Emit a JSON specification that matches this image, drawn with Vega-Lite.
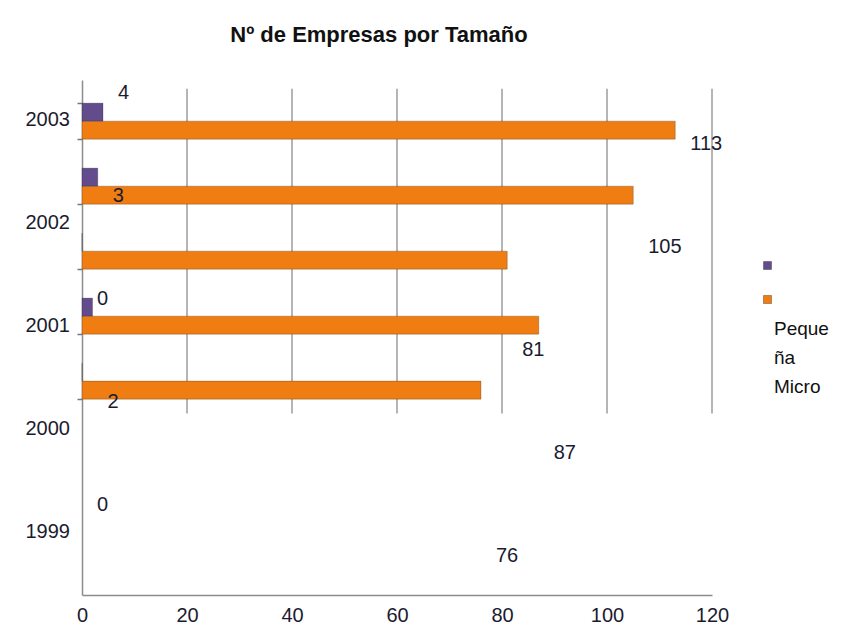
{
  "$schema": "https://vega.github.io/schema/vega-lite/v6.json",
  "width": 630,
  "height": 515,
  "padding": {"left": 25, "top": 24, "right": 5, "bottom": 0},
  "background": "white",
  "title": {"text": "Nº de Empresas por Tamaño", "font": "Liberation Sans", "fontSize": 22, "fontWeight": "bold", "color": "#111111", "offset": 33, "dx": -18, "anchor": "middle"},
  "config": {"view": {"stroke": null}, "font": "Liberation Sans"},
  "datasets": {
    "empresas": [
      {"year": "2003", "serie": "Micro", "value": 113},
      {"year": "2003", "serie": "Pequeña", "value": 4},
      {"year": "2002", "serie": "Micro", "value": 105},
      {"year": "2002", "serie": "Pequeña", "value": 3},
      {"year": "2001", "serie": "Micro", "value": 81},
      {"year": "2001", "serie": "Pequeña", "value": 0},
      {"year": "2000", "serie": "Micro", "value": 87},
      {"year": "2000", "serie": "Pequeña", "value": 2},
      {"year": "1999", "serie": "Micro", "value": 76},
      {"year": "1999", "serie": "Pequeña", "value": 0}
    ],
    "grid": [{"g": 20}, {"g": 40}, {"g": 60}, {"g": 80}, {"g": 100}, {"g": 120}]
  },
  "layer": [
    {
      "layer": [
        {
          "data": {"name": "grid"},
          "mark": {"type": "rule", "color": "#b5b5b5", "strokeWidth": 2},
          "encoding": {
            "x": {"field": "g", "type": "quantitative", "scale": {"domain": [0, 120], "nice": false}, "axis": {"title": null, "values": [0, 20, 40, 60, 80, 100, 120], "ticks": false, "grid": false, "domainColor": "#8c8c8c", "domainWidth": 1.5, "labelFontSize": 20, "labelPadding": 10, "labelColor": "#1b1b2f", "labelFont": "Liberation Sans", "labelFlush": false}},
            "y": {"datum": "2003", "type": "nominal", "bandPosition": -0.4, "scale": {"type": "band", "domain": ["2003", "2002", "2001", "2000", "1999", " ", "  "], "paddingInner": 0.446, "paddingOuter": 0.685, "align": 0.26}},
            "y2": {"datum": "1999", "bandPosition": 1.4}
          }
        },
        {
          "data": {"name": "empresas"},
          "mark": {"type": "bar", "stroke": "rgba(0,0,0,0.22)", "strokeWidth": 1},
          "encoding": {
            "x": {"field": "value", "type": "quantitative", "scale": {"domain": [0, 120], "nice": false}, "axis": {"title": null, "values": [0, 20, 40, 60, 80, 100, 120], "ticks": false, "grid": false, "domainColor": "#8c8c8c", "domainWidth": 1.5, "labelFontSize": 20, "labelPadding": 10, "labelColor": "#1b1b2f", "labelFont": "Liberation Sans", "labelFlush": false}},
            "y": {"field": "year", "type": "nominal", "scale": {"type": "band", "domain": ["2003", "2002", "2001", "2000", "1999", " ", "  "], "paddingInner": 0.446, "paddingOuter": 0.685, "align": 0.26},
              "axis": {"title": null, "values": ["2003", "2002", "2001", "2000", "1999"], "labels": false, "tickBand": "extent", "tickSize": 5, "tickWidth": 1.5, "tickColor": "#777777", "domainColor": "#8c8c8c", "domainWidth": 1.5}},
            "yOffset": {"field": "serie", "type": "nominal", "scale": {"type": "band", "domain": ["Pequeña", "Micro"], "paddingInner": 0, "paddingOuter": 0}},
            "color": {"field": "serie", "type": "nominal", "scale": {"domain": ["Pequeña", "Micro"], "range": ["#634c8c", "#f07d12"]},
              "legend": {"orient": "none", "legendX": 681, "legendY": 181, "title": ["Peque", "ña", "Micro"], "titleOrient": "bottom", "titleFontSize": 19, "titleFontWeight": "normal", "titleFont": "Liberation Sans", "titleColor": "#111111", "titleLineHeight": 29, "titlePadding": 14, "titleAnchor": "start", "titleAlign": "left", "labelExpr": "''", "labelFontSize": 8, "symbolType": "square", "symbolSize": 64, "symbolStrokeWidth": 1, "symbolStrokeColor": "rgba(0,0,0,0.3)", "rowPadding": 21, "padding": 0,
                "encode": {"title": {"update": {"dx": {"value": 11}}}}}}
          }
        }
      ]
    },
    {
      "layer": [
        {
          "data": {"name": "empresas"},
          "mark": {"type": "text", "align": "left", "baseline": "middle", "dx": 15, "dy": -13, "fontSize": 20, "font": "Liberation Sans", "color": "#1b1b2f"},
          "encoding": {
            "x": {"field": "value", "type": "quantitative", "scale": {"domain": [0, 120], "nice": false}, "axis": {"title": null, "values": [0, 20, 40, 60, 80, 100, 120], "ticks": false, "grid": false, "domainColor": "#8c8c8c", "domainWidth": 1.5, "labelFontSize": 20, "labelPadding": 10, "labelColor": "#1b1b2f", "labelFont": "Liberation Sans", "labelFlush": false}},
            "y": {"field": "year", "type": "nominal", "scale": {"type": "band", "domain": ["2003", "2002", "2001", "2000", "1999"], "paddingInner": 0, "paddingOuter": 0}, "axis": null},
            "yOffset": {"field": "serie", "type": "nominal", "scale": {"type": "band", "domain": ["Pequeña", "Micro"], "paddingInner": 0, "paddingOuter": 0}},
            "text": {"field": "value", "type": "quantitative"}
          }
        },
        {
          "data": {"name": "empresas"},
          "transform": [{"filter": "datum.serie == 'Micro'"}],
          "mark": {"type": "text", "align": "right", "baseline": "middle", "dx": -12, "dy": -12, "fontSize": 20, "font": "Liberation Sans", "color": "#1b1b2f"},
          "encoding": {
            "x": {"datum": 0, "type": "quantitative"},
            "y": {"field": "year", "type": "nominal", "scale": {"type": "band", "domain": ["2003", "2002", "2001", "2000", "1999"], "paddingInner": 0, "paddingOuter": 0}, "axis": null},
            "text": {"field": "year", "type": "nominal"}
          }
        }
      ]
    }
  ],
  "resolve": {"scale": {"y": "independent", "yOffset": "independent"}}
}
